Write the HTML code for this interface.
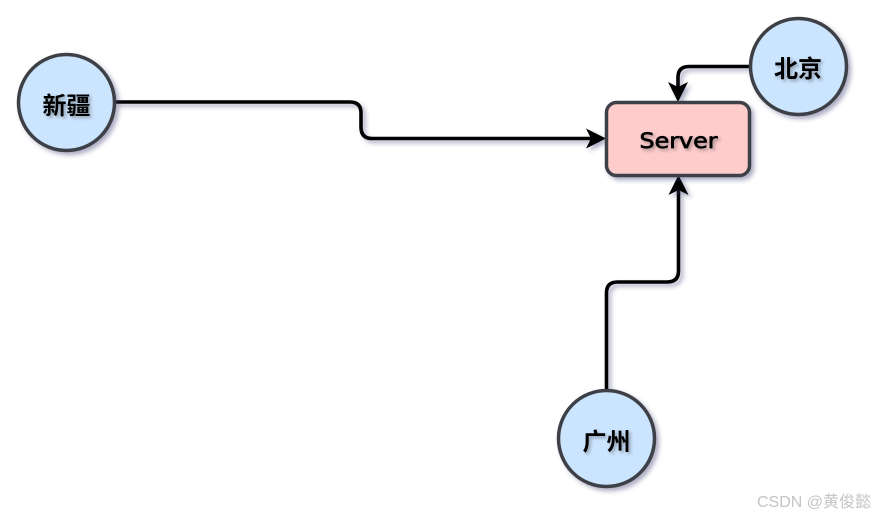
<!DOCTYPE html>
<html><head><meta charset="utf-8"><style>
html,body{margin:0;padding:0;background:#fff}
svg{display:block}
</style></head><body>
<svg width="875" height="516" viewBox="0 0 875 516" xmlns="http://www.w3.org/2000/svg">
<defs>
<filter id="s" x="-20%" y="-20%" width="150%" height="150%"><feDropShadow dx="3" dy="3" stdDeviation="2" flood-color="#3a3a70" flood-opacity="0.4"/></filter>
<filter id="t" x="-20%" y="-20%" width="150%" height="150%"><feDropShadow dx="2" dy="2" stdDeviation="1.5" flood-color="#333" flood-opacity="0.4"/></filter>
</defs>
<rect width="875" height="516" fill="#fff"/>
<g filter="url(#s)" fill="none" stroke="#000" stroke-width="3.600">
<path d="M115 102H350Q361 102 361 113V127Q361 138.500 372 138.500H592"/>
<path d="M750 66.500H689Q678 66.500 678 77.500V88"/>
<path d="M606.500 390V293Q606.500 282 617.500 282H667Q678.500 282 678.500 271V189"/>
</g>
<g filter="url(#s)" fill="#000">
<path d="M606 138.500L586 128.500L591 138.500L586 148.500Z"/>
<path d="M678 102L668 82L678 87L688 82Z"/>
<path d="M678.500 175L668.500 195L678.500 190L688.500 195Z"/>
</g>
<g filter="url(#s)" fill="#cce5ff" stroke="#3d4047" stroke-width="3.500">
<circle cx="66.500" cy="102.500" r="48"/>
<circle cx="798.500" cy="66.500" r="48"/>
<circle cx="606.500" cy="438.500" r="48"/>
<rect x="606.500" y="102.500" width="143" height="73" rx="10" fill="#ffcccc"/>
</g>
<g filter="url(#t)" fill="#000" font-family="'Liberation Sans','Noto Sans CJK SC',sans-serif" font-size="24" font-weight="700" text-anchor="middle">
<text x="66.500" y="114">新疆</text>
<text x="798" y="77">北京</text>
<text x="606.500" y="450">广州</text>
<text x="678.500" y="148" font-family="'DejaVu Sans',sans-serif" font-size="21" font-weight="400" stroke="#000" stroke-width="0.700" textLength="78" lengthAdjust="spacingAndGlyphs">Server</text>
</g>
<text x="871" y="507" text-anchor="end" fill="#c4c4c4" font-family="'Liberation Sans','Noto Sans CJK SC',sans-serif" font-size="16">CSDN @黄俊懿</text>
</svg>
</body></html>
